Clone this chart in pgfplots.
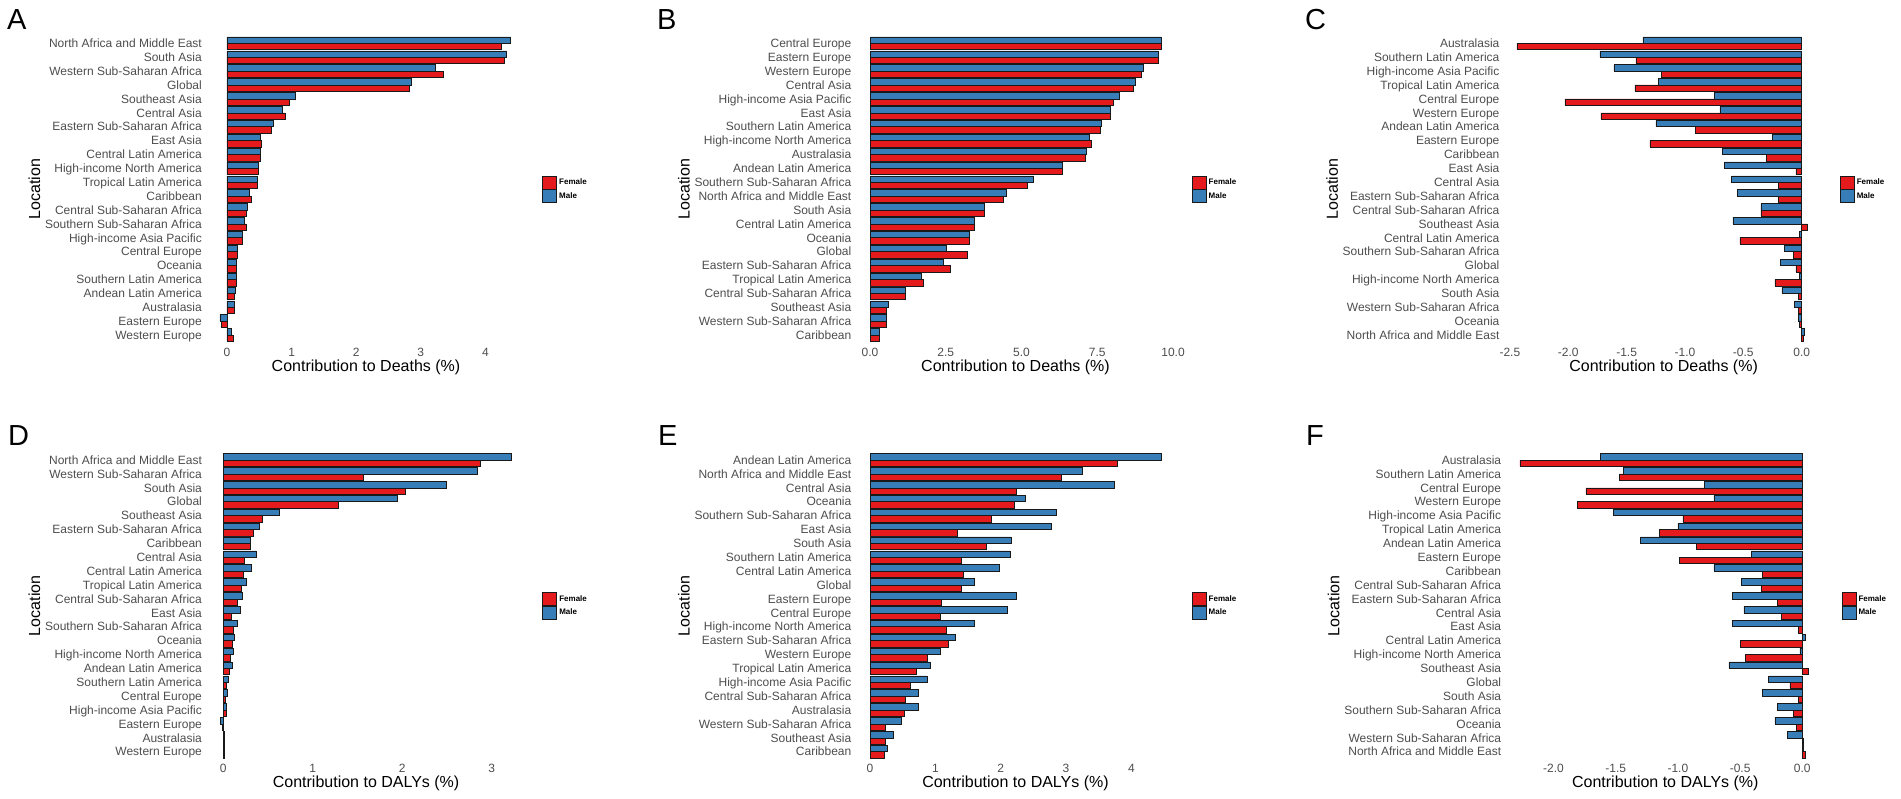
\documentclass[border=0pt]{standalone}
\usepackage{fontspec}
\setmainfont{Liberation Sans}
\usepackage{pgfplots}
\usepackage{pgfplotstable}
\pgfplotsset{compat=1.18}

\definecolor{femred}{HTML}{E41A1C}
\definecolor{malblue}{HTML}{377EB8}
\definecolor{labgray}{HTML}{4D4D4D}

% panel A: deaths, positive
\pgfplotstableread[col sep=comma]{
name,male,female
North Africa and Middle East,4.39,4.25
South Asia,4.33,4.30
Western Sub-Saharan Africa,3.22,3.35
Global,2.86,2.82
Southeast Asia,1.05,0.96
Central Asia,0.86,0.90
Eastern Sub-Saharan Africa,0.71,0.69
East Asia,0.52,0.53
Central Latin America,0.51,0.51
High-income North America,0.49,0.49
Tropical Latin America,0.47,0.47
Caribbean,0.35,0.37
Central Sub-Saharan Africa,0.31,0.30
Southern Sub-Saharan Africa,0.27,0.30
High-income Asia Pacific,0.23,0.24
Central Europe,0.16,0.16
Oceania,0.15,0.15
Southern Latin America,0.15,0.15
Andean Latin America,0.13,0.11
Australasia,0.11,0.11
Eastern Europe,-0.11,-0.09
Western Europe,0.07,0.09
}\tabA

\pgfplotstableread[col sep=comma]{
name,male,female
Central Europe,9.60,9.60
Eastern Europe,9.50,9.50
Western Europe,9.00,8.95
Central Asia,8.75,8.70
High-income Asia Pacific,8.24,8.03
East Asia,7.94,7.94
Southern Latin America,7.63,7.61
High-income North America,7.25,7.29
Australasia,7.12,7.10
Andean Latin America,6.33,6.35
Southern Sub-Saharan Africa,5.40,5.18
North Africa and Middle East,4.49,4.38
South Asia,3.76,3.76
Central Latin America,3.44,3.44
Oceania,3.28,3.29
Global,2.50,3.20
Eastern Sub-Saharan Africa,2.41,2.65
Tropical Latin America,1.68,1.77
Central Sub-Saharan Africa,1.17,1.17
Southeast Asia,0.60,0.54
Western Sub-Saharan Africa,0.55,0.53
Caribbean,0.31,0.29
}\tabB

\pgfplotstableread[col sep=comma]{
name,male,female
Australasia,-1.36,-2.44
Southern Latin America,-1.73,-1.42
High-income Asia Pacific,-1.61,-1.20
Tropical Latin America,-1.23,-1.43
Central Europe,-0.75,-2.03
Western Europe,-0.70,-1.72
Andean Latin America,-1.25,-0.91
Eastern Europe,-0.25,-1.30
Caribbean,-0.68,-0.30
East Asia,-0.66,-0.05
Central Asia,-0.60,-0.20
Eastern Sub-Saharan Africa,-0.55,-0.20
Central Sub-Saharan Africa,-0.35,-0.35
Southeast Asia,-0.59,0.05
Central Latin America,-0.02,-0.53
Southern Sub-Saharan Africa,-0.15,-0.07
Global,-0.18,-0.05
High-income North America,-0.02,-0.23
South Asia,-0.17,-0.03
Western Sub-Saharan Africa,-0.06,-0.03
Oceania,-0.03,-0.02
North Africa and Middle East,0.02,0.01
}\tabC

\pgfplotstableread[col sep=comma]{
name,male,female
North Africa and Middle East,3.22,2.87
Western Sub-Saharan Africa,2.84,1.56
South Asia,2.49,2.03
Global,1.94,1.28
Southeast Asia,0.63,0.43
Eastern Sub-Saharan Africa,0.40,0.33
Caribbean,0.30,0.30
Central Asia,0.37,0.23
Central Latin America,0.31,0.22
Tropical Latin America,0.26,0.20
Central Sub-Saharan Africa,0.21,0.15
East Asia,0.19,0.09
Southern Sub-Saharan Africa,0.15,0.11
Oceania,0.12,0.10
High-income North America,0.11,0.08
Andean Latin America,0.10,0.07
Southern Latin America,0.05,0.03
Central Europe,0.04,0.02
High-income Asia Pacific,0.03,0.03
Eastern Europe,-0.03,-0.01
Australasia,0.01,0.01
Western Europe,0.01,0.01
}\tabD

\pgfplotstableread[col sep=comma]{
name,male,female
Andean Latin America,4.45,3.79
North Africa and Middle East,3.24,2.92
Central Asia,3.74,2.23
Oceania,2.38,2.21
Southern Sub-Saharan Africa,2.85,1.85
East Asia,2.77,1.33
South Asia,2.16,1.78
Southern Latin America,2.14,1.39
Central Latin America,1.98,1.42
Global,1.59,1.40
Eastern Europe,2.23,1.09
Central Europe,2.10,1.07
High-income North America,1.60,1.16
Eastern Sub-Saharan Africa,1.30,1.19
Western Europe,1.07,0.88
Tropical Latin America,0.92,0.71
High-income Asia Pacific,0.87,0.62
Central Sub-Saharan Africa,0.74,0.54
Australasia,0.74,0.53
Western Sub-Saharan Africa,0.48,0.24
Southeast Asia,0.36,0.23
Caribbean,0.26,0.22
}\tabE

\pgfplotstableread[col sep=comma]{
name,male,female
Australasia,-1.62,-2.27
Southern Latin America,-1.44,-1.47
Central Europe,-0.79,-1.74
Western Europe,-0.71,-1.81
High-income Asia Pacific,-1.52,-0.96
Tropical Latin America,-1.00,-1.15
Andean Latin America,-1.30,-0.85
Eastern Europe,-0.41,-0.99
Caribbean,-0.71,-0.32
Central Sub-Saharan Africa,-0.49,-0.33
Eastern Sub-Saharan Africa,-0.56,-0.20
Central Asia,-0.47,-0.17
East Asia,-0.56,-0.03
Central Latin America,0.02,-0.50
High-income North America,-0.02,-0.46
Southeast Asia,-0.59,0.05
Global,-0.27,-0.10
South Asia,-0.32,-0.03
Southern Sub-Saharan Africa,-0.20,-0.07
Oceania,-0.22,-0.05
Western Sub-Saharan Africa,-0.12,0.01
North Africa and Middle East,0.01,0.02
}\tabF

\pgfplotsset{
  panel/.style={
    scale only axis, width=320pt, height=308.3pt, anchor=south west,
    y dir=reverse, ymin=-0.6, ymax=21.6, ytick={0,...,21},
    axis line style={draw=none}, tick style={draw=none}, major tick length=0pt,
    yticklabel style={font=\fontsize{12}{14}\selectfont, text=labgray,
      anchor=east, inner sep=0pt, xshift=-4pt, text height=8.6pt, text depth=0pt},
    xticklabel style={font=\fontsize{12}{14}\selectfont, text=labgray,
      anchor=center, inner sep=0pt, yshift=-8.7pt},
    xlabel style={font=\fontsize{16}{18}\selectfont, at={(axis description cs:0.5,0)},
      anchor=center, yshift=-23.7pt, inner sep=0pt},
    ylabel={Location},
    ylabel style={font=\fontsize{16}{18}\selectfont, inner sep=0pt,
      at={([xshift=-165.5pt]axis description cs:0,0.5)}, anchor=south},
    legend style={draw=none, fill=none, at={(1,0.5)}, anchor=west, xshift=13pt,
      font=\bfseries\fontsize{8}{9}\selectfont, row sep=0pt, column sep=2pt,
      nodes={inner sep=0.5pt}},
    legend cell align=left,
  },
  fem/.style={xbar, fill=femred, draw=black!90, line width=0.5pt, bar width=0.46, bar shift=0.23,
    legend image code/.code={\draw[fill=femred, draw=black!90, line width=0.5pt] (0pt,-6.5pt) rectangle (14pt,6.5pt);}},
  mal/.style={xbar, fill=malblue, draw=black!90, line width=0.5pt, bar width=0.46, bar shift=-0.23,
    legend image code/.code={\draw[fill=malblue, draw=black!90, line width=0.5pt] (0pt,-6.5pt) rectangle (14pt,6.5pt);}},
}

\newcommand{\bars}[1]{%
  \addplot[fem] table[x=female, y expr=\coordindex] {#1};
  \addlegendentry{Female}
  \addplot[mal] table[x=male, y expr=\coordindex] {#1};
  \addlegendentry{Male}
}

\begin{document}
\begin{tikzpicture}
\path[use as bounding box] (0,0) rectangle (1901pt,799pt);

\begin{axis}[panel, at={(206pt,455.7pt)}, xmin=-0.325, xmax=4.629,
  xtick={0,1,2,3,4}, xticklabels={0,1,2,3,4},
  yticklabels from table={\tabA}{name}, xlabel={Contribution to Deaths (\%)}]
\bars{\tabA}
\end{axis}

\begin{axis}[panel, at={(855.5pt,455.7pt)}, xmin=-0.48, xmax=10.081,
  xtick={0,2.5,5,7.5,10}, xticklabels={0.0,2.5,5.0,7.5,10.0},
  yticklabels from table={\tabB}{name}, xlabel={Contribution to Deaths (\%)}]
\bars{\tabB}
\end{axis}

\begin{axis}[panel, at={(1503.6pt,455.7pt)}, xmin=-2.554, xmax=0.188,
  xtick={-2.5,-2,-1.5,-1,-0.5,0}, xticklabels={-2.5,-2.0,-1.5,-1.0,-0.5,0.0},
  yticklabels from table={\tabC}{name}, xlabel={Contribution to Deaths (\%)}]
\bars{\tabC}
\end{axis}

\begin{axis}[panel, at={(206.1pt,39pt)}, xmin=-0.1925, xmax=3.383,
  xtick={0,1,2,3}, xticklabels={0,1,2,3},
  yticklabels from table={\tabD}{name}, xlabel={Contribution to DALYs (\%)}]
\bars{\tabD}
\end{axis}

\begin{axis}[panel, at={(855.5pt,39pt)}, xmin=-0.2227, xmax=4.675,
  xtick={0,1,2,3,4}, xticklabels={0,1,2,3,4},
  yticklabels from table={\tabE}{name}, xlabel={Contribution to DALYs (\%)}]
\bars{\tabE}
\end{axis}

\begin{axis}[panel, at={(1505.3pt,39pt)}, xmin=-2.387, xmax=0.185,
  xtick={-2,-1.5,-1,-0.5,0}, xticklabels={-2.0,-1.5,-1.0,-0.5,0.0},
  yticklabels from table={\tabF}{name}, xlabel={Contribution to DALYs (\%)}]
\bars{\tabF}
\end{axis}

\foreach \lab/\x/\y in {A/7/769, B/657/769, C/1305/769, D/8/353, E/658/353, F/1306/353}
  \node[anchor=base west, inner sep=0pt, font=\fontsize{29}{30}\selectfont] at (\x pt,\y pt) {\lab};
\end{tikzpicture}
\end{document}
